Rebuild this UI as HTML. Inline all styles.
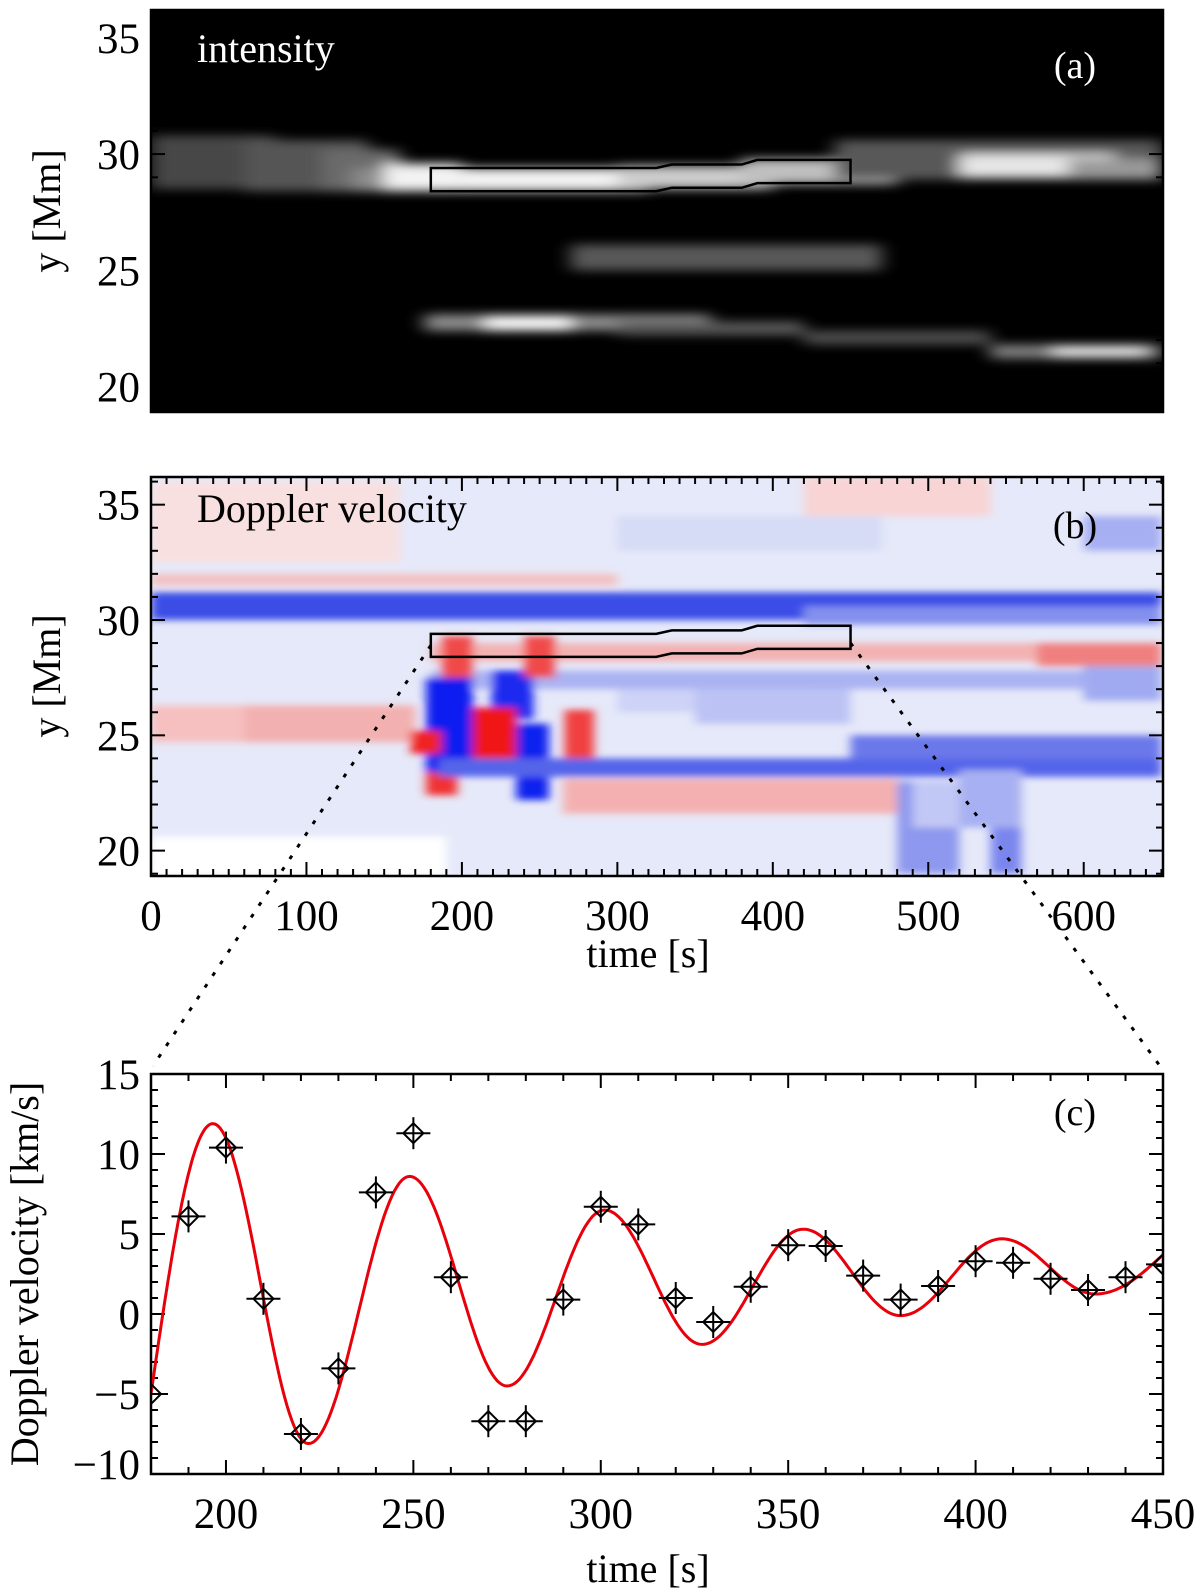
<!DOCTYPE html>
<html><head><meta charset="utf-8">
<style>
html,body{margin:0;padding:0;background:#fff;}
svg{display:block;font-family:"Liberation Serif","DejaVu Serif",serif;}
</style></head>
<body>
<svg id="fig" width="1200" height="1588" viewBox="0 0 1200 1588" xmlns="http://www.w3.org/2000/svg">
<defs>
<filter id="blurA" x="-20%" y="-50%" width="140%" height="200%"><feGaussianBlur stdDeviation="9 5"/></filter>
<filter id="blurB" x="-20%" y="-50%" width="140%" height="200%"><feGaussianBlur stdDeviation="5 3.5"/></filter>
<clipPath id="clipA"><rect x="151" y="10" width="1012" height="402"/></clipPath>
<clipPath id="clipB"><rect x="151" y="477" width="1012" height="399"/></clipPath>
<clipPath id="clipC"><rect x="151" y="1074" width="1012" height="400"/></clipPath>
</defs>
<g id="panelA"></g>
<g id="panelB"></g>
<g id="panelC"></g>
<g id="overlay"></g>
</svg>
<script>
// ---------- data ----------
// intensity streaks: [t0, t1, yLow(Mm), yHigh(Mm), brightness 0..1]
const intT0 = [0,   60,  110, 130, 150, 200, 300, 380, 440, 520, 590, 270, 176, 215, 300, 420, 540, 580];
const intT1 = [80,  140, 160, 200, 200, 320, 400, 480, 650, 620, 650, 470, 360, 270, 420, 540, 650, 640];
const intY0 = [28.5,28.4,28.4,28.4,28.4,28.4,28.5,28.7,28.9,29.0,28.9,25.0,22.4,22.4,22.2,21.8,21.2,21.3];
const intY1 = [30.8,30.6,30.2,29.4,29.6,29.4,29.5,29.8,30.6,30.0,29.8,26.1,23.1,23.0,22.8,22.4,21.8,21.7];
const intV  = [0.28,0.33,0.42,0.55,0.95,0.95,0.8, 0.75,0.35,0.9, 0.6, 0.35,0.55,1.0, 0.35,0.3, 0.5,0.95];

// doppler patches: [t0, t1, yLow, yHigh, color]
const dopT0 = [0,   0,   0,   180, 420, 420, 0,   300, 60,  180, 177, 219, 207, 235, 266, 167, 177, 185, 265, 187, 240, 570, 450, 480, 540, 600, 0,   490, 520, 300, 350, 600];
const dopT1 = [160, 300, 650, 650, 540, 650, 170, 470, 170, 650, 207, 246, 235, 256, 285, 187, 197, 650, 480, 207, 260, 650, 650, 520, 560, 650, 190, 520, 560, 420, 450, 650];
const dopY0 = [32.5,31.5,30.0,28.2,34.5,29.8,24.7,33.0,24.7,27.0,23.4,25.7,23.9,22.2,24.0,24.2,22.4,23.2,21.6,27.5,27.5,28.0,24.0,19.0,19.0,33.0,18.9,21.0,21.0,26.0,25.5,26.5];
const dopY1 = [36.0,32.0,31.2,29.0,36.2,30.6,26.3,34.5,26.3,27.8,27.5,27.8,26.2,25.5,26.1,25.2,23.4,24.0,23.1,29.3,29.3,29.0,25.0,23.0,22.0,34.5,20.6,23.0,23.5,27.0,27.0,28.0];
const dopC  = ["#f8e0e0","#f3c0c0","#3a4ee6","#f3b2b2","#f8d4d4","#8390ee","#f6c0c0","#d6dbf6","#f3b0b0","#aab3f2","#0a1cf0","#1a2cf0","#f01818","#1020ee","#f04040","#f02020","#f03030","#5565ea","#f4b0b0","#f04848","#f04848","#f08080","#6a78ea","#8d98ee","#7a86ee","#a6aff2","#ffffff","#c2c8f5","#a7b0f2","#cdd2f6","#bcc3f4","#a0aaf0"];

// panel (c) measured points
const ptT = [180,190,200,210,220,230,240,250,260,270,280,290,300,310,320,330,340,350,360,370,380,390,400,410,420,430,440,450];
const ptV = [-5.0,6.1,10.4,0.95,-7.5,-3.4,7.6,11.3,2.3,-6.7,-6.7,0.9,6.7,5.6,1.0,-0.5,1.7,4.3,4.25,2.4,0.9,1.75,3.3,3.2,2.2,1.5,2.3,3.1];
// fit curve extrema
const fitT = [180,196.5,222,249,275,301,327,354,380,407,432,450];
const fitV = [-5.0,11.9,-8.1,8.6,-4.5,6.5,-1.9,5.3,-0.1,4.7,1.25,3.7];

const xTicksB = [0,100,200,300,400,500,600];
const yTicksAB = [20,25,30,35];
const xTicksC = [200,250,300,350,400,450];
const yTicksC = [-10,-5,0,5,10,15];

// ---------- helpers ----------
const NS="http://www.w3.org/2000/svg";
function mk(tag, attrs, parent){const e=document.createElementNS(NS,tag);for(const k in attrs)e.setAttribute(k,attrs[k]);if(parent)parent.appendChild(e);return e;}
const L=151,R=1163;
function lin(d0,d1,r0,r1){return v=>r0+(v-d0)*(r1-r0)/(d1-d0);}
const xAB=lin(0,651,L,R);
const yA=lin(18.9,36.2,412,10);
const yB=lin(18.9,36.2,876,477);
const xC=lin(180,450,L,R);
const yC=lin(-10,15,1474,1074);

function axesFrame(g,top,bot,xs,xMinor,xMajor,xDom,ys,yMinor,yMajor,yDom,color){
  mk('rect',{x:L,y:top,width:R-L,height:bot-top,fill:'none',stroke:color,'stroke-width':2.5},g);
  const tg=mk('g',{stroke:color,'stroke-width':2},g);
  for(let v=xDom[0];v<=xDom[1]+1e-6;v+=xMinor){const X=xs(v);const maj=Math.abs(v/xMajor-Math.round(v/xMajor))<1e-6;const len=maj?14:7;
    mk('line',{x1:X,y1:bot,x2:X,y2:bot-len},tg);mk('line',{x1:X,y1:top,x2:X,y2:top+len},tg);}
  for(let v=yDom[0];v<=yDom[1]+1e-6;v+=yMinor){const Y=ys(v);const maj=Math.abs(v/yMajor-Math.round(v/yMajor))<1e-6;const len=maj?14:7;
    mk('line',{x1:L,y1:Y,x2:L+len,y2:Y},tg);mk('line',{x1:R,y1:Y,x2:R-len,y2:Y},tg);}
}

// ---------- panel A ----------
const gA=document.getElementById('panelA');
mk('rect',{x:L,y:10,width:R-L,height:402,fill:'#000'},gA);
const hA=mk('g',{'clip-path':'url(#clipA)'},gA);
const hAb=mk('g',{filter:'url(#blurA)'},hA);
for(let i=0;i<intT0.length;i++){
  const c=Math.round(255*intV[i]);
  const r=mk('rect',{x:xAB(intT0[i]),y:yA(intY1[i]),width:xAB(intT1[i])-xAB(intT0[i]),height:yA(intY0[i])-yA(intY1[i]),fill:`rgb(${c},${c},${c})`},hAb);
  
  
}
// ---------- panel B ----------
const gB=document.getElementById('panelB');
mk('rect',{x:L,y:477,width:R-L,height:399,fill:'#e6e9f9'},gB);
const hB=mk('g',{'clip-path':'url(#clipB)'},gB);
const hBb=mk('g',{filter:'url(#blurB)'},hB);
for(let i=0;i<dopT0.length;i++){
  const r=mk('rect',{x:xAB(dopT0[i]),y:yB(dopY1[i]),width:xAB(dopT1[i])-xAB(dopT0[i]),height:yB(dopY0[i])-yB(dopY1[i]),fill:dopC[i]},hBb);
  
  
}
// box outlines (region of interest)
const boxT=[180,325,335,380,390,450];
const boxLo=[28.4,28.4,28.55,28.55,28.75,28.75];
const boxHi=[29.4,29.4,29.55,29.55,29.75,29.75];
function boxPath(ys){let d='M'+xAB(boxT[0])+','+ys(boxLo[0]);
  for(let i=1;i<boxT.length;i++)d+=' L'+xAB(boxT[i])+','+ys(boxLo[i]);
  for(let i=boxT.length-1;i>=0;i--)d+=' L'+xAB(boxT[i])+','+ys(boxHi[i]);
  return d+' Z';}
const bA=mk('path',{d:boxPath(yA),fill:'none',stroke:'#000','stroke-width':2.5},gA);

const bB=mk('path',{d:boxPath(yB),fill:'none',stroke:'#000','stroke-width':2.5},gB);


axesFrame(gA,10,412,xAB,10,100,[0,650],yA,1,5,[19,36],'#000');
axesFrame(gB,477,876,xAB,10,100,[0,650],yB,1,5,[19,36],'#000');

function text(g,x,y,s,size,anchor,name,extra){const t=mk('text',Object.assign({x:x,y:y,'font-size':size,'text-anchor':anchor||'middle'},extra||{}),g);t.textContent=s;return t;}

yTicksAB.forEach(v=>{text(gA,140,yA(v)+15,String(v),43,'end','y-tick-label-a');text(gB,140,yB(v)+15,String(v),43,'end','y-tick-label-b');});
xTicksB.forEach(v=>text(gB,xAB(v),930,String(v),43,'middle','x-tick-label-b'));
text(gA,197,62,'intensity',40,'start','panel-a-title',{fill:'#fff'});
text(gA,1075,78,'(a)',38,'middle','panel-a-label',{fill:'#fff'});
text(gB,197,522,'Doppler velocity',40,'start','panel-b-title');
text(gB,1075,538,'(b)',38,'middle','panel-b-label');
text(gA,60,211,'y [Mm]',40,'middle','y-axis-title-a',{transform:'rotate(-90 60 211)'});
text(gB,60,676,'y [Mm]',40,'middle','y-axis-title-b',{transform:'rotate(-90 60 676)'});
text(gB,648,967,'time [s]',40,'middle','x-axis-title-b');

// ---------- panel C ----------
const gC=document.getElementById('panelC');
axesFrame(gC,1074,1474,xC,10,50,[180,450],yC,1,5,[-10,15],'#000');
yTicksC.forEach(v=>text(gC,140,(v===-10?yC(v)-10:yC(v))+15,String(v).replace('-','\u2212'),43,'end','y-tick-label-c'));
xTicksC.forEach(v=>text(gC,xC(v),1528,String(v),43,'middle','x-tick-label-c'));
text(gC,648,1582,'time [s]',40,'middle','x-axis-title-c');
text(gC,38,1274,'Doppler velocity [km/s]',40,'middle','y-axis-title-c',{transform:'rotate(-90 38 1274)'});
text(gC,1075,1125,'(c)',38,'middle','panel-c-label');

const cC=mk('g',{'clip-path':'url(#clipC)'},gC);
// fit curve
let d='';
for(let i=0;i<fitT.length-1;i++){
  const t0=fitT[i],t1=fitT[i+1],v0=fitV[i],v1=fitV[i+1];
  for(let k=0;k<=40;k++){const u=k/40;let f;
    if(i===0)f=Math.sin(Math.PI/2*u);
    else if(i===fitT.length-2)f=1-Math.cos(Math.PI/2*u);
    else f=(1-Math.cos(Math.PI*u))/2;
    const X=xC(t0+(t1-t0)*u),Y=yC(v0+(v1-v0)*f);
    d+=(d?' L':'M')+X.toFixed(1)+','+Y.toFixed(1);}
}
const fit=mk('path',{d:d,fill:'none',stroke:'#e8000b','stroke-width':3},cC);


// points
for(let i=0;i<ptT.length;i++){
  const X=xC(ptT[i]),Y=yC(ptV[i]);
  const g=mk('g',{stroke:'#000','stroke-width':2,fill:'none'},cC);
  
  
  mk('line',{x1:X-17,y1:Y,x2:X+17,y2:Y},g);
  mk('line',{x1:X,y1:Y-16,x2:X,y2:Y+16},g);
  mk('path',{d:`M${X-10},${Y} L${X},${Y-10} L${X+10},${Y} L${X},${Y+10} Z`},g);
}

// connectors
const ov=document.getElementById('overlay');
const c1=mk('line',{x1:xAB(180),y1:yB(28.9),x2:153,y2:1066,stroke:'#000','stroke-width':3,'stroke-dasharray':'4 10'},ov);

const c2=mk('line',{x1:xAB(450),y1:yB(29.0),x2:1160,y2:1066,stroke:'#000','stroke-width':3,'stroke-dasharray':'4 10'},ov);

</script>
</body></html>
